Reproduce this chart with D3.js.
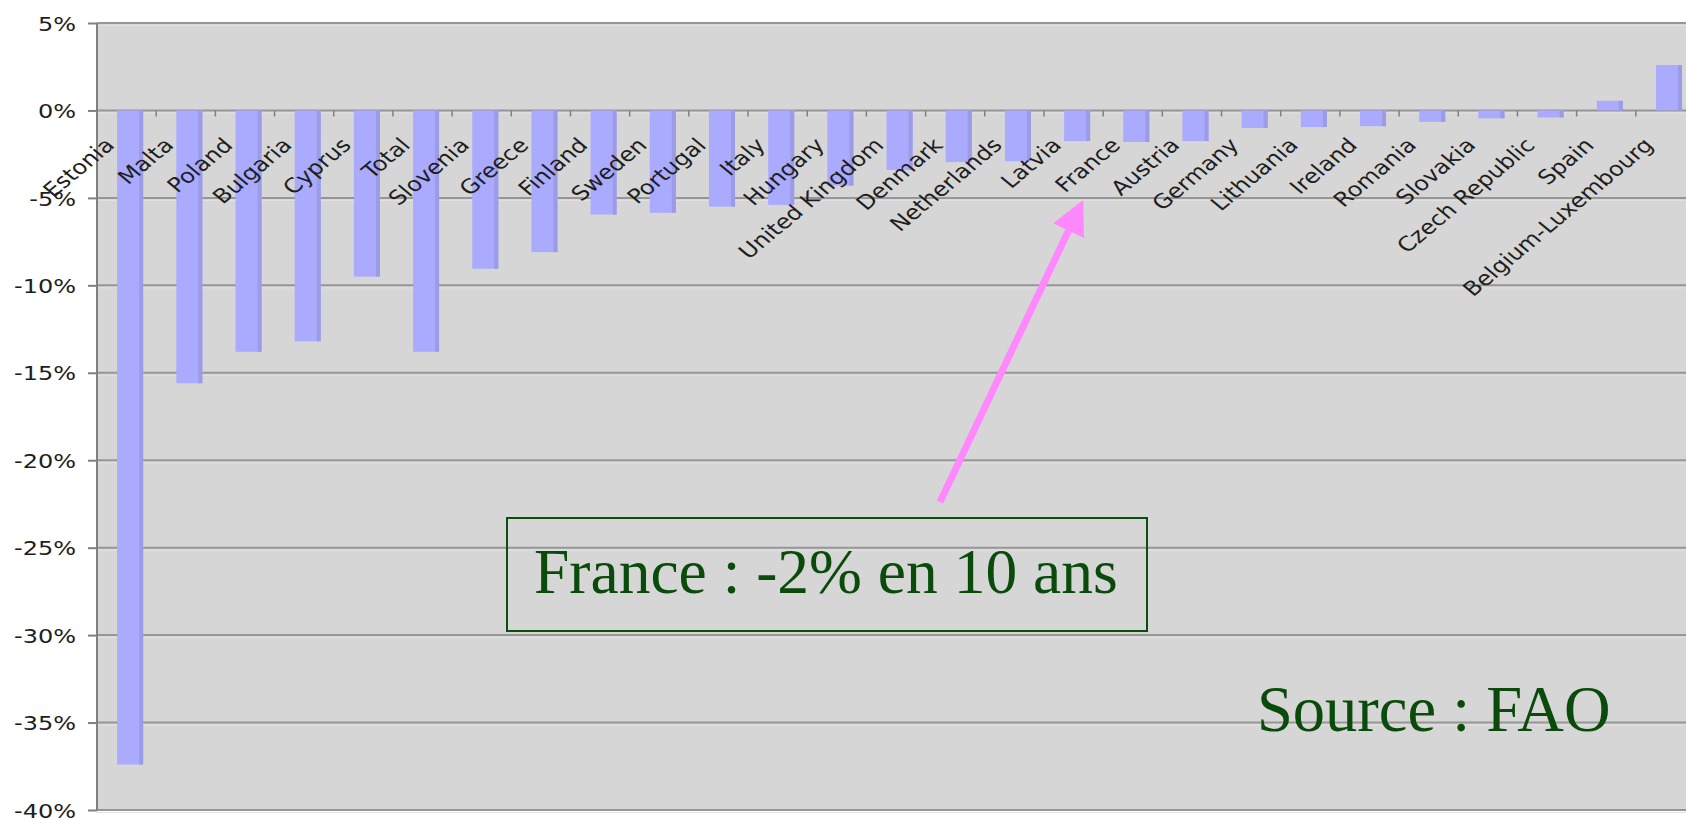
<!DOCTYPE html>
<html>
<head>
<meta charset="utf-8">
<script src="https://cdn.jsdelivr.net/npm/d3@7"></script>
<style>
  html, body { margin: 0; padding: 0; background: #ffffff; }
  svg { display: block; }
</style>
</head>
<body>
<svg id="chart" width="1686" height="820"></svg>
<script>
// ---------------- DATA ----------------
const categories = ["Estonia", "Malta", "Poland", "Bulgaria", "Cyprus", "Total", "Slovenia", "Greece",
  "Finland", "Sweden", "Portugal", "Italy", "Hungary", "United Kingdom", "Denmark", "Netherlands",
  "Latvia", "France", "Austria", "Germany", "Lithuania", "Ireland", "Romania", "Slovakia",
  "Czech Republic", "Spain", "Belgium-Luxembourg"];
const values = [-37.4, -15.6, -13.8, -13.2, -9.5, -13.8, -9.05, -8.1,
  -5.95, -5.85, -5.5, -5.4, -4.3, -3.4, -2.95, -2.9,
  -1.75, -1.8, -1.75, -1.0, -0.95, -0.9, -0.65, -0.45,
  -0.4, 0.55, 2.6];
const yTicks = [5, 0, -5, -10, -15, -20, -25, -30, -35, -40];
const annotationText = "France : -2% en 10 ans";
const sourceText = "Source : FAO";

// ---------------- LAYOUT ----------------
const W = 1686, H = 820;
const mLeft = 97, rightRange = 1695, mTop = 23, mBottom = 810;
const sx = 1.2; // horizontal stretch of the original picture's text

const svg = d3.select("#chart");

const x = d3.scaleBand().domain(categories).range([mLeft, rightRange]).padding(0);
const y = d3.scaleLinear().domain([-40, 5]).range([mBottom, mTop]);
const bw = x.bandwidth();

// plot background
svg.append("rect")
  .attr("x", mLeft).attr("y", y(5))
  .attr("width", W - mLeft).attr("height", y(-40) - y(5))
  .attr("fill", "#d6d6d6");

// gridlines
const grid = svg.append("g");
grid.selectAll("line.g2").data(yTicks).join("line")
  .attr("class", "g2")
  .attr("x1", mLeft).attr("x2", W)
  .attr("y1", d => y(d) + 2.5).attr("y2", d => y(d) + 2.5)
  .attr("stroke", "#e2e2e2").attr("stroke-width", 1);
grid.selectAll("line.g1").data(yTicks).join("line")
  .attr("class", "g1")
  .attr("x1", mLeft).attr("x2", W)
  .attr("y1", d => y(d)).attr("y2", d => y(d))
  .attr("stroke", "#969696").attr("stroke-width", 2);

// bars
const bars = svg.append("g");
bars.selectAll("rect.bar").data(values).join("rect")
  .attr("class", "bar")
  .attr("x", (d, i) => x(categories[i]) + bw * 0.34)
  .attr("width", bw * 0.44)
  .attr("y", d => y(Math.max(0, d)))
  .attr("height", d => Math.abs(y(d) - y(0)))
  .attr("fill", "#aaaaff");
bars.selectAll("rect.shade").data(values).join("rect")
  .attr("class", "shade")
  .attr("x", (d, i) => x(categories[i]) + bw * 0.78 - 4)
  .attr("width", 4)
  .attr("y", d => y(Math.max(0, d)))
  .attr("height", d => Math.abs(y(d) - y(0)))
  .attr("fill", "#9c9ce6");

// y axis
const yAxis = svg.append("g")
  .attr("transform", `translate(${mLeft},0)`)
  .call(d3.axisLeft(y).tickValues(yTicks).tickFormat(d => d + "%").tickSize(9).tickPadding(0));
yAxis.select(".domain").attr("stroke", "#808080").attr("stroke-width", 2)
  .attr("d", `M0,${y(5)}V${y(-40)}`);
yAxis.selectAll(".tick line").attr("stroke", "#808080").attr("stroke-width", 2);
yAxis.selectAll(".tick text")
  .attr("x", 0)
  .attr("dy", "0.36em")
  .attr("transform", `translate(-21,0) scale(${sx},1)`)
  .attr("font-family", "'DejaVu Sans', Verdana, sans-serif")
  .attr("font-size", 20)
  .attr("fill", "#1e1e1e");

// x axis ticks at category boundaries on 0 line
const xt = svg.append("g");
xt.selectAll("line").data(categories.slice(1)).join("line")
  .attr("x1", d => x(d)).attr("x2", d => x(d))
  .attr("y1", y(0)).attr("y2", y(0) + 6)
  .attr("stroke", "#808080").attr("stroke-width", 1.5);

// x labels
const xl = svg.append("g");
xl.selectAll("text").data(categories).join("text")
  .attr("transform", d => `translate(${x(d) + bw / 2 - 11},${y(0) + 36}) scale(${sx},1) rotate(-45)`)
  .attr("text-anchor", "end")
  .attr("font-family", "'DejaVu Sans', Verdana, sans-serif")
  .attr("font-size", 20)
  .attr("fill", "#1e1e1e")
  .text(d => d);

// annotation box
const boxX = 507, boxY = 518, boxW = 640, boxH = 113;
svg.append("rect")
  .attr("x", boxX).attr("y", boxY).attr("width", boxW).attr("height", boxH)
  .attr("fill", "none").attr("stroke", "#0b4d0b").attr("stroke-width", 2);
svg.append("text")
  .attr("x", 534).attr("y", 593)
  .attr("font-family", "'Liberation Serif', 'Times New Roman', serif")
  .attr("font-size", 63.5)
  .attr("fill", "#0a4a0a")
  .text(annotationText);

// source
svg.append("text")
  .attr("x", 1257).attr("y", 731)
  .attr("font-family", "'Liberation Serif', 'Times New Roman', serif")
  .attr("font-size", 64.5)
  .attr("fill", "#0a4a0a")
  .text(sourceText);

// arrow
const tip = [x("France") - 20, y(-5) + 2];
const tail = [940, 502];
const dx = tip[0] - tail[0], dy = tip[1] - tail[1];
const len = Math.hypot(dx, dy);
const ux = dx / len, uy = dy / len;
const headL = 34, headW = 17;
const base = [tip[0] - ux * headL, tip[1] - uy * headL];
svg.append("line")
  .attr("x1", tail[0]).attr("y1", tail[1])
  .attr("x2", base[0] + ux * 2).attr("y2", base[1] + uy * 2)
  .attr("stroke", "#ff88ff").attr("stroke-width", 7);
svg.append("polygon")
  .attr("points", [
    tip,
    [base[0] - uy * headW, base[1] + ux * headW],
    [base[0] + uy * headW, base[1] - ux * headW]
  ].map(p => p.join(",")).join(" "))
  .attr("fill", "#ff88ff");
</script>
</body>
</html>
